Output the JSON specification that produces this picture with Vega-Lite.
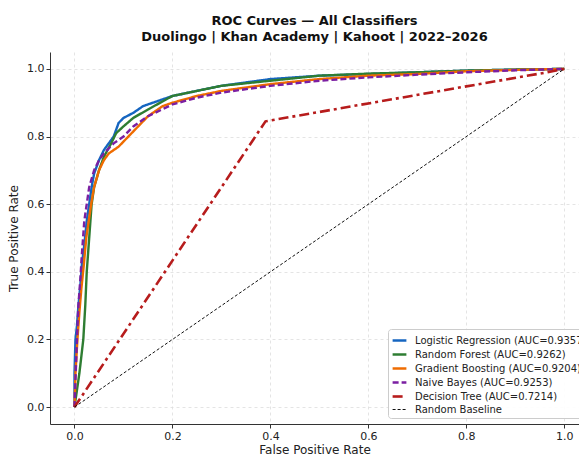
{
  "$schema": "https://vega.github.io/schema/vega-lite/v6.json",
  "autosize": {"type": "none"},
  "width": 529,
  "height": 372,
  "padding": {"left": 50, "top": 52, "right": 0, "bottom": 31},
  "background": "white",
  "config": {
    "view": {"stroke": null},
    "font": "DejaVu Sans",
    "axis": {
      "labelFont": "DejaVu Sans", "titleFont": "DejaVu Sans",
      "labelFontSize": 11, "titleFontSize": 12, "titleFontWeight": "normal",
      "labelColor": "#222", "titleColor": "#222",
      "domainColor": "#333", "domainWidth": 1, "tickColor": "#333", "tickSize": 4,
      "gridColor": "#dddddd", "gridDash": [3, 3], "gridWidth": 0.8
    }
  },
  "title": {
    "text": ["ROC Curves — All Classifiers", "Duolingo | Khan Academy | Kahoot | 2022–2026"],
    "fontSize": 13, "fontWeight": "bold", "font": "DejaVu Sans", "color": "#111",
    "anchor": "middle", "offset": 8, "lineHeight": 16
  },
  "data": {"values": [
    {"m": "Logistic Regression (AUC=0.9357)", "x": 0, "y": 0},
    {"m": "Logistic Regression (AUC=0.9357)", "x": 0, "y": 0.1},
    {"m": "Logistic Regression (AUC=0.9357)", "x": 0.002, "y": 0.2},
    {"m": "Logistic Regression (AUC=0.9357)", "x": 0.005, "y": 0.24},
    {"m": "Logistic Regression (AUC=0.9357)", "x": 0.008, "y": 0.3},
    {"m": "Logistic Regression (AUC=0.9357)", "x": 0.012, "y": 0.36},
    {"m": "Logistic Regression (AUC=0.9357)", "x": 0.015, "y": 0.42},
    {"m": "Logistic Regression (AUC=0.9357)", "x": 0.02, "y": 0.48},
    {"m": "Logistic Regression (AUC=0.9357)", "x": 0.025, "y": 0.55},
    {"m": "Logistic Regression (AUC=0.9357)", "x": 0.03, "y": 0.6},
    {"m": "Logistic Regression (AUC=0.9357)", "x": 0.035, "y": 0.65},
    {"m": "Logistic Regression (AUC=0.9357)", "x": 0.04, "y": 0.69},
    {"m": "Logistic Regression (AUC=0.9357)", "x": 0.05, "y": 0.73},
    {"m": "Logistic Regression (AUC=0.9357)", "x": 0.06, "y": 0.76},
    {"m": "Logistic Regression (AUC=0.9357)", "x": 0.07, "y": 0.78},
    {"m": "Logistic Regression (AUC=0.9357)", "x": 0.08, "y": 0.8},
    {"m": "Logistic Regression (AUC=0.9357)", "x": 0.09, "y": 0.84},
    {"m": "Logistic Regression (AUC=0.9357)", "x": 0.1, "y": 0.855},
    {"m": "Logistic Regression (AUC=0.9357)", "x": 0.12, "y": 0.87},
    {"m": "Logistic Regression (AUC=0.9357)", "x": 0.14, "y": 0.89},
    {"m": "Logistic Regression (AUC=0.9357)", "x": 0.16, "y": 0.9},
    {"m": "Logistic Regression (AUC=0.9357)", "x": 0.2, "y": 0.92},
    {"m": "Logistic Regression (AUC=0.9357)", "x": 0.25, "y": 0.935},
    {"m": "Logistic Regression (AUC=0.9357)", "x": 0.3, "y": 0.95},
    {"m": "Logistic Regression (AUC=0.9357)", "x": 0.35, "y": 0.96},
    {"m": "Logistic Regression (AUC=0.9357)", "x": 0.4, "y": 0.97},
    {"m": "Logistic Regression (AUC=0.9357)", "x": 0.5, "y": 0.98},
    {"m": "Logistic Regression (AUC=0.9357)", "x": 0.6, "y": 0.985},
    {"m": "Logistic Regression (AUC=0.9357)", "x": 0.7, "y": 0.99},
    {"m": "Logistic Regression (AUC=0.9357)", "x": 0.8, "y": 0.995},
    {"m": "Logistic Regression (AUC=0.9357)", "x": 0.9, "y": 0.998},
    {"m": "Logistic Regression (AUC=0.9357)", "x": 1, "y": 1},

    {"m": "Random Forest (AUC=0.9262)", "x": 0, "y": 0},
    {"m": "Random Forest (AUC=0.9262)", "x": 0.01, "y": 0.1},
    {"m": "Random Forest (AUC=0.9262)", "x": 0.018, "y": 0.2},
    {"m": "Random Forest (AUC=0.9262)", "x": 0.022, "y": 0.3},
    {"m": "Random Forest (AUC=0.9262)", "x": 0.025, "y": 0.4},
    {"m": "Random Forest (AUC=0.9262)", "x": 0.03, "y": 0.5},
    {"m": "Random Forest (AUC=0.9262)", "x": 0.035, "y": 0.6},
    {"m": "Random Forest (AUC=0.9262)", "x": 0.04, "y": 0.65},
    {"m": "Random Forest (AUC=0.9262)", "x": 0.05, "y": 0.7},
    {"m": "Random Forest (AUC=0.9262)", "x": 0.06, "y": 0.74},
    {"m": "Random Forest (AUC=0.9262)", "x": 0.075, "y": 0.78},
    {"m": "Random Forest (AUC=0.9262)", "x": 0.085, "y": 0.81},
    {"m": "Random Forest (AUC=0.9262)", "x": 0.1, "y": 0.83},
    {"m": "Random Forest (AUC=0.9262)", "x": 0.12, "y": 0.855},
    {"m": "Random Forest (AUC=0.9262)", "x": 0.15, "y": 0.88},
    {"m": "Random Forest (AUC=0.9262)", "x": 0.2, "y": 0.92},
    {"m": "Random Forest (AUC=0.9262)", "x": 0.25, "y": 0.935},
    {"m": "Random Forest (AUC=0.9262)", "x": 0.3, "y": 0.95},
    {"m": "Random Forest (AUC=0.9262)", "x": 0.4, "y": 0.965},
    {"m": "Random Forest (AUC=0.9262)", "x": 0.5, "y": 0.98},
    {"m": "Random Forest (AUC=0.9262)", "x": 0.6, "y": 0.986},
    {"m": "Random Forest (AUC=0.9262)", "x": 0.7, "y": 0.99},
    {"m": "Random Forest (AUC=0.9262)", "x": 0.8, "y": 0.995},
    {"m": "Random Forest (AUC=0.9262)", "x": 0.9, "y": 0.998},
    {"m": "Random Forest (AUC=0.9262)", "x": 1, "y": 1},

    {"m": "Gradient Boosting (AUC=0.9204)", "x": 0, "y": 0},
    {"m": "Gradient Boosting (AUC=0.9204)", "x": 0.002, "y": 0.1},
    {"m": "Gradient Boosting (AUC=0.9204)", "x": 0.006, "y": 0.2},
    {"m": "Gradient Boosting (AUC=0.9204)", "x": 0.01, "y": 0.28},
    {"m": "Gradient Boosting (AUC=0.9204)", "x": 0.014, "y": 0.35},
    {"m": "Gradient Boosting (AUC=0.9204)", "x": 0.019, "y": 0.42},
    {"m": "Gradient Boosting (AUC=0.9204)", "x": 0.024, "y": 0.5},
    {"m": "Gradient Boosting (AUC=0.9204)", "x": 0.029, "y": 0.55},
    {"m": "Gradient Boosting (AUC=0.9204)", "x": 0.034, "y": 0.6},
    {"m": "Gradient Boosting (AUC=0.9204)", "x": 0.04, "y": 0.65},
    {"m": "Gradient Boosting (AUC=0.9204)", "x": 0.05, "y": 0.7},
    {"m": "Gradient Boosting (AUC=0.9204)", "x": 0.06, "y": 0.73},
    {"m": "Gradient Boosting (AUC=0.9204)", "x": 0.07, "y": 0.75},
    {"m": "Gradient Boosting (AUC=0.9204)", "x": 0.09, "y": 0.77},
    {"m": "Gradient Boosting (AUC=0.9204)", "x": 0.11, "y": 0.8},
    {"m": "Gradient Boosting (AUC=0.9204)", "x": 0.13, "y": 0.83},
    {"m": "Gradient Boosting (AUC=0.9204)", "x": 0.15, "y": 0.86},
    {"m": "Gradient Boosting (AUC=0.9204)", "x": 0.18, "y": 0.89},
    {"m": "Gradient Boosting (AUC=0.9204)", "x": 0.2, "y": 0.9},
    {"m": "Gradient Boosting (AUC=0.9204)", "x": 0.25, "y": 0.92},
    {"m": "Gradient Boosting (AUC=0.9204)", "x": 0.3, "y": 0.935},
    {"m": "Gradient Boosting (AUC=0.9204)", "x": 0.4, "y": 0.955},
    {"m": "Gradient Boosting (AUC=0.9204)", "x": 0.5, "y": 0.97},
    {"m": "Gradient Boosting (AUC=0.9204)", "x": 0.6, "y": 0.98},
    {"m": "Gradient Boosting (AUC=0.9204)", "x": 0.7, "y": 0.985},
    {"m": "Gradient Boosting (AUC=0.9204)", "x": 0.8, "y": 0.993},
    {"m": "Gradient Boosting (AUC=0.9204)", "x": 0.9, "y": 0.997},
    {"m": "Gradient Boosting (AUC=0.9204)", "x": 1, "y": 1},

    {"m": "Naive Bayes (AUC=0.9253)", "x": 0, "y": 0},
    {"m": "Naive Bayes (AUC=0.9253)", "x": 0.002, "y": 0.08},
    {"m": "Naive Bayes (AUC=0.9253)", "x": 0.005, "y": 0.2},
    {"m": "Naive Bayes (AUC=0.9253)", "x": 0.008, "y": 0.3},
    {"m": "Naive Bayes (AUC=0.9253)", "x": 0.012, "y": 0.38},
    {"m": "Naive Bayes (AUC=0.9253)", "x": 0.015, "y": 0.45},
    {"m": "Naive Bayes (AUC=0.9253)", "x": 0.02, "y": 0.55},
    {"m": "Naive Bayes (AUC=0.9253)", "x": 0.025, "y": 0.6},
    {"m": "Naive Bayes (AUC=0.9253)", "x": 0.03, "y": 0.65},
    {"m": "Naive Bayes (AUC=0.9253)", "x": 0.04, "y": 0.7},
    {"m": "Naive Bayes (AUC=0.9253)", "x": 0.05, "y": 0.73},
    {"m": "Naive Bayes (AUC=0.9253)", "x": 0.06, "y": 0.75},
    {"m": "Naive Bayes (AUC=0.9253)", "x": 0.08, "y": 0.78},
    {"m": "Naive Bayes (AUC=0.9253)", "x": 0.1, "y": 0.8},
    {"m": "Naive Bayes (AUC=0.9253)", "x": 0.12, "y": 0.83},
    {"m": "Naive Bayes (AUC=0.9253)", "x": 0.15, "y": 0.86},
    {"m": "Naive Bayes (AUC=0.9253)", "x": 0.2, "y": 0.895},
    {"m": "Naive Bayes (AUC=0.9253)", "x": 0.25, "y": 0.915},
    {"m": "Naive Bayes (AUC=0.9253)", "x": 0.3, "y": 0.93},
    {"m": "Naive Bayes (AUC=0.9253)", "x": 0.4, "y": 0.95},
    {"m": "Naive Bayes (AUC=0.9253)", "x": 0.5, "y": 0.965},
    {"m": "Naive Bayes (AUC=0.9253)", "x": 0.6, "y": 0.975},
    {"m": "Naive Bayes (AUC=0.9253)", "x": 0.7, "y": 0.983},
    {"m": "Naive Bayes (AUC=0.9253)", "x": 0.8, "y": 0.99},
    {"m": "Naive Bayes (AUC=0.9253)", "x": 0.9, "y": 0.996},
    {"m": "Naive Bayes (AUC=0.9253)", "x": 1, "y": 1},

    {"m": "Decision Tree (AUC=0.7214)", "x": 0, "y": 0},
    {"m": "Decision Tree (AUC=0.7214)", "x": 0.39, "y": 0.845},
    {"m": "Decision Tree (AUC=0.7214)", "x": 0.965, "y": 0.99},
    {"m": "Decision Tree (AUC=0.7214)", "x": 1, "y": 1},

    {"m": "Random Baseline", "x": 0, "y": 0},
    {"m": "Random Baseline", "x": 1, "y": 1}
  ]},
  "mark": {"type": "line", "clip": true},
  "encoding": {
    "x": {"field": "x", "type": "quantitative", "title": "False Positive Rate",
          "scale": {"domain": [-0.05, 1.03], "nice": false, "zero": false},
          "axis": {"values": [0, 0.2, 0.4, 0.6, 0.8, 1.0], "format": ".1f", "titlePadding": 3}},
    "y": {"field": "y", "type": "quantitative", "title": "True Positive Rate",
          "scale": {"domain": [-0.05, 1.05], "nice": false, "zero": false},
          "axis": {"values": [0, 0.2, 0.4, 0.6, 0.8, 1.0], "format": ".1f", "titlePadding": 6}},
    "order": {"field": "x", "type": "quantitative"},
    "color": {"field": "m", "type": "nominal", "title": null,
      "scale": {"domain": ["Logistic Regression (AUC=0.9357)", "Random Forest (AUC=0.9262)", "Gradient Boosting (AUC=0.9204)", "Naive Bayes (AUC=0.9253)", "Decision Tree (AUC=0.7214)", "Random Baseline"],
                "range": ["#1565C0", "#2E7D32", "#EF6C00", "#7B1FA2", "#B71C1C", "#111111"]},
      "legend": {"orient": "none", "legendX": 338, "legendY": 277, "symbolType": "stroke", "labelFontSize": 10, "labelFont": "DejaVu Sans", "labelColor": "#222",
                 "fillColor": "rgba(255,255,255,0.9)", "strokeColor": "#cccccc", "cornerRadius": 3, "padding": 3, "rowPadding": 0, "symbolSize": 190, "symbolStrokeWidth": 2.2, "labelOffset": 7, "labelLimit": 400}},
    "strokeDash": {"field": "m", "type": "nominal",
      "scale": {"domain": ["Logistic Regression (AUC=0.9357)", "Random Forest (AUC=0.9262)", "Gradient Boosting (AUC=0.9204)", "Naive Bayes (AUC=0.9253)", "Decision Tree (AUC=0.7214)", "Random Baseline"],
                "range": [[1, 0], [1, 0], [1, 0], [6, 3], [10, 4, 3, 4], [3, 2]]}},
    "strokeWidth": {"field": "m", "type": "nominal", "legend": null,
      "scale": {"type": "ordinal", "domain": ["Logistic Regression (AUC=0.9357)", "Random Forest (AUC=0.9262)", "Gradient Boosting (AUC=0.9204)", "Naive Bayes (AUC=0.9253)", "Decision Tree (AUC=0.7214)", "Random Baseline"],
                "range": [2.4, 2.4, 2.4, 2.4, 2.6, 1]}}
  }
}
